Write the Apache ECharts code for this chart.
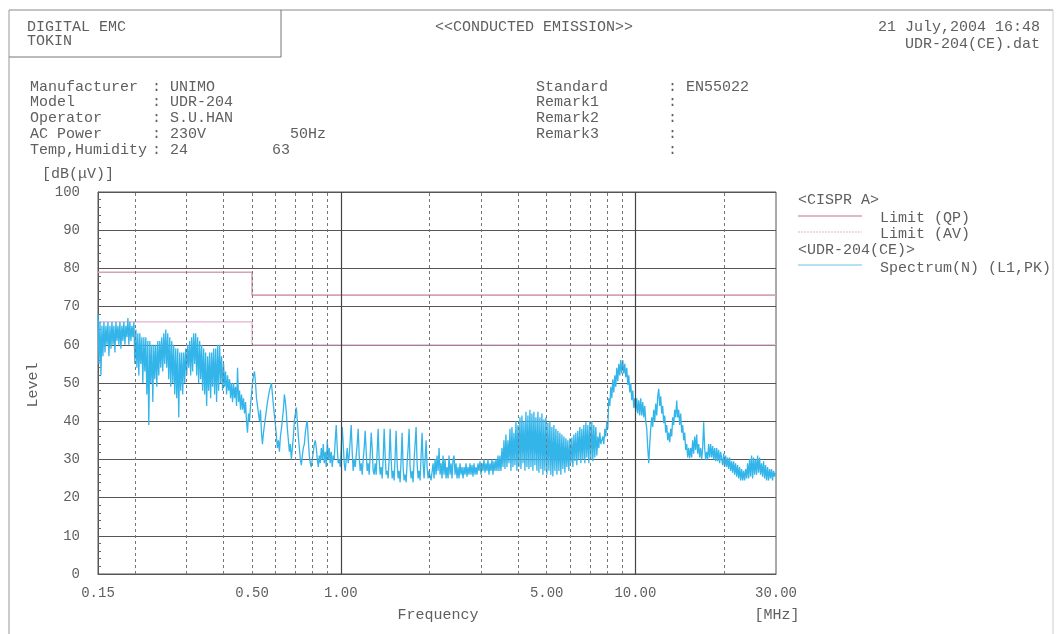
<!DOCTYPE html>
<html>
<head>
<meta charset="utf-8">
<title>Conducted Emission</title>
<script src="https://cdn.jsdelivr.net/npm/echarts@6.0.0/dist/echarts.min.js"></script>
<style>
  html, body { margin: 0; padding: 0; background: #fff; }
  #chart { width: 1056px; height: 634px; }
</style>
</head>
<body>
<div id="chart"></div>
<script>
const FONT = '"Liberation Mono", "DejaVu Sans Mono", monospace'
const TEXT = '#5f5f5f'

// axis ticks / labels (MHz)
const xTickLabels = [0.15, 0.5, 1, 5, 10, 30]
const minorGrid = [0.2, 0.3, 0.4, 0.5, 0.6, 0.7, 0.8, 0.9, 2, 3, 4, 5, 6, 7, 8, 9, 20]
const majorGrid = [1, 10]

// CISPR A limits [MHz, dB(uV)]
const limitQP = [[0.15, 79], [0.5, 79], [0.5, 73], [30, 73]]
const limitAV = [[0.15, 66], [0.5, 66], [0.5, 60], [30, 60]]

// measured spectrum (N, L1, PK) [MHz, dB(uV)]
const spectrum = [
  [0.1500,68],[0.1512,55],[0.1524,66],[0.1535,52],[0.1547,65],[0.1559,57],[0.1571,66],[0.1584,58],
  [0.1596,65],[0.1609,60],[0.1621,66],[0.1634,57],[0.1647,65],[0.1660,59],[0.1673,66],[0.1686,60],
  [0.1699,65],[0.1712,58],[0.1726,66],[0.1739,61],[0.1753,65],[0.1766,60],[0.1780,66],[0.1794,59],
  [0.1808,65],[0.1822,61],[0.1836,66],[0.1851,60],[0.1865,65],[0.1880,62],[0.1895,67],[0.1909,60],
  [0.1924,66],[0.1940,61],[0.1955,65],[0.1970,62],[0.1986,66],[0.2001,55],
  [0.2017,64],[0.2033,54],[0.2048,63],[0.2064,52],[0.2080,63],[0.2096,55],[0.2113,62],[0.2129,50],
  [0.2146,62],[0.2163,53],[0.2180,62],[0.2197,47],[0.2214,61],[0.2231,39],[0.2249,61],[0.2266,50],
  [0.2284,60],[0.2302,45],[0.2320,60],[0.2338,51],[0.2356,60],[0.2375,49],[0.2393,61],[0.2412,52],
  [0.2431,61],[0.2450,54],[0.2469,62],[0.2488,53],[0.2508,63],[0.2527,55],[0.2547,64],[0.2567,54],
  [0.2587,63],[0.2607,51],[0.2628,62],[0.2648,49],[0.2669,61],[0.2690,50],[0.2711,60],[0.2732,47],
  [0.2754,59],[0.2775,46],[0.2797,59],[0.2819,41],[0.2841,58],[0.2863,48],[0.2885,58],[0.2908,47],
  [0.2931,58],[0.2954,50],[0.2977,59],[0.3000,52],[0.3023,60],[0.3047,54],[0.3071,61],[0.3095,52],
  [0.3119,62],[0.3143,53],[0.3168,63],[0.3193,55],[0.3218,63],[0.3243,52],[0.3268,62],[0.3294,50],
  [0.3320,61],[0.3346,51],[0.3372,60],[0.3398,48],[0.3425,59],[0.3452,47],[0.3478,58],[0.3506,44],
  [0.3533,57],[0.3561,48],[0.3589,58],[0.3617,46],[0.3645,58],[0.3673,49],[0.3702,59],[0.3731,47],
  [0.3760,59],[0.3790,45],[0.3819,60],[0.3849,48],[0.3879,60],[0.3910,50],[0.3940,57],[0.3971,48],
  [0.4002,55],[0.4033,49],[0.4065,53],[0.4097,47],[0.4129,52],[0.4161,48],[0.4194,51],[0.4227,46],
  [0.4260,50],[0.4293,45],[0.4327,50],[0.4361,46],[0.4395,49],[0.4429,44],[0.4464,54],[0.4499,45],
  [0.4534,48],[0.4569,43],[0.4605,47],[0.4641,43],[0.4677,46],[0.4714,42],[0.4751,45],[0.4788,40],
  [0.4825,37],[0.4863,42],[0.4901,40],[0.4939,44],[0.4978,47],[0.5017,50],[0.5056,52],[0.5096,53],
  [0.5136,50],[0.5176,46],[0.5216,44],[0.5257,42],[0.5298,40],[0.5339,43],[0.5381,37],[0.5423,34],
  [0.5466,37],[0.5552,41],[0.5639,45],[0.5727,48],[0.5817,50],[0.5863,47],[0.5909,44],[0.6002,39],
  [0.6049,36],[0.6096,33],[0.6144,35],[0.6191,32],[0.6240,36],[0.6289,38],[0.6387,43],[0.6437,47],
  [0.6488,45],[0.6539,42],[0.6589,38],[0.6641,35],[0.6693,32],[0.6745,34],[0.6798,30],[0.6851,33],
  [0.6905,36],[0.6959,40],[0.7013,42],[0.7068,43.6],[0.7123,40],[0.7179,36],[0.7235,33],[0.7292,30],
  [0.7349,28.5],[0.7406,31],[0.7464,33],[0.7522,34],[0.7581,37],[0.7640,39],[0.7700,40],[0.7760,35],
  [0.7821,31],[0.7882,29],[0.7944,28],[0.8006,30],[0.8069,32],[0.8132,34],[0.8195,35],[0.8259,33],
  [0.8324,30],[0.8389,28],[0.8455,31],[0.8521,29],[0.8588,33],[0.8655,30],[0.8722,34],[0.8790,29],
  [0.8859,32],[0.8928,28],[0.8998,35],[0.9069,30],[0.9140,33],[0.9211,29],[0.9283,32],[0.9356,28],
  [0.9429,31],[0.9503,30],[0.9577,35],[0.9652,39],[0.9728,33],[0.9804,29],[0.9880,30],[0.9958,28],
  [1.0036,33],[1.0114,38.5],[1.0193,34],[1.0273,29],[1.0354,27],[1.0435,30],[1.0516,33],[1.0599,29],
  [1.0682,31],[1.0766,35],[1.0850,39],[1.0935,32],[1.1020,27],[1.1107,30],[1.1194,28],[1.1282,31],
  [1.1370,34],[1.1459,38],[1.1548,31],[1.1639,27],[1.1730,29],[1.1822,26],[1.1914,30],[1.2008,33],
  [1.2102,37.5],[1.2197,32],[1.2292,27],[1.2389,29],[1.2485,26],[1.2583,31],[1.2682,37],[1.2781,33],
  [1.2881,27],[1.2982,26],[1.3084,29],[1.3187,26],[1.3290,32],[1.3394,38],[1.3499,30],[1.3605,26],
  [1.3711,28],[1.3819,25],[1.3927,30],[1.4036,38],[1.4146,31],[1.4257,26],[1.4368,27],[1.4481,25],
  [1.4594,30],[1.4709,38],[1.4824,30],[1.4940,25],[1.5057,27],[1.5175,24.5],[1.5294,31],[1.5413,37.5],
  [1.5534,29],[1.5656,25],[1.5778,27],[1.5902,24],[1.6027,30],[1.6152,37],[1.6279,28],[1.6406,24.5],
  [1.6535,26],[1.6664,24],[1.6795,29],[1.6927,33],[1.7059,38],[1.7193,28],[1.7327,25],[1.7463,27],
  [1.7600,24],[1.7738,30],[1.7876,34],[1.8016,38.5],[1.8158,29],[1.8300,25],[1.8443,27],[1.8587,24.5],
  [1.8733,31],[1.8880,37],[1.9028,29],[1.9177,25],[1.9327,30],[1.9478,35],[1.9631,28],[1.9785,25],
  [1.9940,27],[2.0253,24.5],[2.0572,29],[2.0733,25],[2.0895,30],[2.1059,26],[2.1224,31],[2.1391,27],
  [2.1558,33],[2.1727,26],[2.1897,29],[2.2068,25],[2.2241,31],[2.2415,26],[2.2591,30],[2.2768,25],
  [2.2946,28],[2.3126,25],[2.3307,31],[2.3490,26],[2.3674,29],[2.3859,25],[2.4046,30],[2.4235,31],
  [2.4424,26],[2.4616,29],[2.4808,25],[2.5003,28],[2.5198,25],[2.5396,29],[2.5595,26],[2.5795,28],
  [2.5997,25],[2.6201,28],[2.6406,26],[2.6613,29],[2.6821,25.5],[2.7031,28],[2.7243,26],[2.7457,29],
  [2.7672,26],[2.7888,28.5],[2.8107,25.5],[2.8327,29],[2.8549,26],[2.8773,28],[2.8998,26],[2.9225,29],
  [2.9454,27],[2.9685,29.5],[2.9917,26],[3.0151,29],[3.0388,27],[3.0626,30],[3.0866,26.5],[3.1108,29],
  [3.1351,27],[3.1597,30],[3.1844,26],[3.2094,29],[3.2345,27],[3.2598,30],[3.2854,26],[3.3111,29.5],
  [3.3371,27],[3.3632,30],[3.3896,27],[3.4162,31],[3.4429,27],[3.4700,31],[3.4970,27],[3.5244,33],
  [3.5520,28],[3.5798,35],[3.6079,27.5],[3.6362,36.5],[3.6646,28],[3.6934,35],[3.7223,29],[3.7514,38],
  [3.7808,27],[3.8104,38.5],[3.8403,28],[3.8704,37],[3.9007,28.5],[3.9312,40],[3.9620,27],[3.9931,39],
  [4.0243,28],[4.0559,41],[4.0876,27.5],[4.1196,41.5],[4.1519,29],[4.1844,40],[4.2172,27],[4.2502,42.5],
  [4.2836,28],[4.3171,41.5],[4.3509,27.5],[4.3850,43],[4.4194,28],[4.4540,42],[4.4889,27],[4.5240,42.5],
  [4.5595,28.5],[4.5952,41],[4.6312,27],[4.6675,42.5],[4.7040,26.5],[4.7409,41],[4.7780,27.5],[4.8154,42],
  [4.8532,26],[4.8912,40.5],[4.9295,27],[4.9681,41],[5.0070,26],[5.0462,39.5],[5.0858,27],[5.1256,40],
  [5.1658,26],[5.2062,38.5],[5.2470,25.5],[5.2881,39],[5.3296,27],[5.3713,38],[5.4134,26],[5.4558,37.5],
  [5.4985,27],[5.5416,37],[5.5850,26],[5.6287,36.5],[5.6729,27.5],[5.7173,36],[5.7621,26.5],[5.8072,35.5],
  [5.8527,28],[5.8986,35],[5.9448,27],[5.9914,35.5],[6.0383,29],[6.0856,35.7],[6.1332,28],[6.1813,36.5],
  [6.2297,29.5],[6.2785,37],[6.3277,28.5],[6.3772,37.5],[6.4272,30],[6.4775,38.5],[6.5283,29],[6.5794,38],
  [6.6310,30],[6.6829,39],[6.7353,29],[6.7880,39.7],[6.8412,30.5],[6.8948,39],[6.9488,29],[7.0033,40],
  [7.0581,30],[7.1134,40],[7.1691,29.5],[7.2253,39],[7.2819,30.5],[7.3389,38.5],[7.3964,31],[7.4543,36],
  [7.5128,33],[7.5716,37],[7.6309,34],[7.6907,35],[7.7509,36],[7.8116,34],[7.8729,38],[7.9345,36],
  [7.9967,40],[8.0593,38],[8.1225,46],[8.1861,44],[8.2502,49],[8.3148,46],[8.3800,51],[8.4456,47.5],
  [8.5118,52],[8.5784,49],[8.6457,54],[8.7134,50.5],[8.7817,55],[8.8505,52],[8.9198,56],[8.9897,52.5],
  [9.0601,56],[9.1311,52.5],[9.2026,55],[9.2747,51.5],[9.3473,54],[9.4206,49.5],[9.4944,52],[9.5687,47.5],
  [9.6437,50],[9.7192,45.5],[9.7954,48],[9.8721,43.5],[9.9494,46],[10.027,42.5],[10.106,46],[10.185,42],
  [10.265,45.5],[10.345,41.5],[10.426,46],[10.508,41.5],[10.590,45],[10.673,41],[10.757,44],[10.841,40],
  [10.926,38],[11.012,33],[11.098,29],[11.185,34],[11.272,38],[11.361,41],[11.450,38.5],[11.540,43],
  [11.630,40],[11.721,44.6],[11.813,41.5],[11.906,46.5],[11.999,48.5],[12.093,44],[12.187,46.5],[12.283,42],
  [12.379,44],[12.476,39.5],[12.574,41.5],[12.672,37],[12.772,39],[12.872,35],[12.973,37],[13.074,34.5],
  [13.177,38],[13.280,36],[13.384,41],[13.489,39],[13.594,43],[13.701,41],[13.808,45.4],[13.916,41],
  [14.025,43],[14.135,39],[14.246,42],[14.357,37],[14.470,39],[14.583,35],[14.698,37],[14.813,32.5],
  [14.929,34],[15.046,30.5],[15.164,33],[15.283,30.3],[15.402,33],[15.523,30.5],[15.644,35],[15.767,31.5],
  [15.890,36],[16.015,32.5],[16.140,36.5],[16.267,31.5],[16.394,34],[16.522,30.5],[16.652,33],[16.782,30],
  [16.914,33],[17.047,39.7],[17.180,33],[17.315,29.8],[17.450,32],[17.587,30],[17.725,34],[17.863,30.5],
  [18.004,34],[18.144,30.5],[18.287,33.5],[18.430,30],[18.575,33],[18.720,29.5],[18.867,33],[19.015,29.5],
  [19.164,32.5],[19.314,29],[19.465,32],[19.771,28.5],[19.926,31.5],[20.082,28],[20.239,31],[20.398,28],
  [20.558,30.5],[20.719,27.5],[20.881,30.5],[21.045,27],[21.210,29.5],[21.376,26.5],[21.544,29.5],[21.712,26],
  [21.882,29],[22.054,25.5],[22.227,28.5],[22.401,25],[22.576,28],[22.753,24.5],[22.931,27.5],[23.111,24.5],
  [23.292,27],[23.474,24.5],[23.658,27.5],[23.844,25],[24.031,29],[24.219,25],[24.409,30],[24.600,25.5],
  [24.793,31],[24.987,25],[25.183,30.5],[25.380,26],[25.579,30],[25.779,26],[25.981,31],[26.184,26.5],
  [26.389,30.5],[26.596,26],[26.804,29],[27.015,25.5],[27.226,29.5],[27.440,25],[27.655,28.5],[27.871,24.5],
  [28.090,28],[28.310,24.5],[28.532,27.5],[28.755,25],[28.981,27.5],[29.207,24.5],[29.436,27],[29.667,25.5],
  [29.900,26.5]
]

const chart = echarts.init(document.getElementById('chart'), null, { renderer: 'canvas' })

function txt(text, x, y, align, rotation) {
  return {
    type: 'text',
    silent: true,
    x: x,
    y: y,
    rotation: rotation || 0,
    style: {
      text: text, x: 0, y: 0,
      fill: TEXT,
      fontFamily: FONT,
      fontSize: 15,
      align: align || 'left',
      verticalAlign: 'middle'
    }
  }
}

function seg(x1, y1, x2, y2, stroke, width, dash) {
  return {
    type: 'line',
    silent: true,
    shape: { x1: x1, y1: y1, x2: x2, y2: y2 },
    style: { stroke: stroke, lineWidth: width || 1, lineDash: dash || null }
  }
}

const gridLines = minorGrid.map(f => ({ xAxis: f, lineStyle: { type: [3, 3], color: '#777', width: 1 } }))
  .concat(majorGrid.map(f => ({ xAxis: f, lineStyle: { type: 'solid', color: '#444', width: 1.2 } })))

const infoRows = [87, 102, 118, 134, 150]

chart.setOption({
  animation: false,
  backgroundColor: '#fff',
  grid: {
    left: 98,
    top: 192,
    width: 678,
    height: 382,
    show: true,
    borderColor: '#555',
    borderWidth: 1,
    outerBoundsMode: 'none'
  },
  xAxis: {
    type: 'log',
    logBase: 10,
    min: 0.15,
    max: 30,
    axisLine: { show: true, lineStyle: { color: '#555' } },
    axisTick: { show: false },
    splitLine: { show: false },
    axisLabel: {
      customValues: xTickLabels,
      formatter: v => Number(v).toFixed(2),
      color: TEXT,
      fontFamily: FONT,
      fontSize: 14,
      margin: 12,
      showMinLabel: true,
      showMaxLabel: true
    }
  },
  yAxis: {
    type: 'value',
    min: 0,
    max: 100,
    interval: 10,
    axisLine: { show: true, lineStyle: { color: '#555' } },
    axisTick: { show: true, inside: true, length: 5, lineStyle: { color: '#555' } },
    minorTick: { show: true, splitNumber: 5, length: 3, lineStyle: { color: '#666' } },
    splitLine: { show: true, lineStyle: { color: '#555', width: 1 } },
    axisLabel: { color: TEXT, fontFamily: FONT, fontSize: 14, margin: 18 }
  },
  series: [
    {
      name: 'Limit (QP)',
      type: 'line',
      data: limitQP,
      symbol: 'none',
      z: 2,
      lineStyle: { color: '#d6a2b6', width: 1.6 },
      markLine: {
        silent: true,
        symbol: ['none', 'none'],
        label: { show: false },
        data: gridLines
      }
    },
    {
      name: 'Limit (AV)',
      type: 'line',
      data: limitAV,
      symbol: 'none',
      z: 2,
      lineStyle: { color: '#e3b2d0', width: 1.2 }
    },
    {
      name: 'Spectrum(N) (L1,PK)',
      type: 'line',
      data: spectrum,
      symbol: 'none',
      z: 3,
      lineStyle: { color: '#33b5ea', width: 1.3 }
    }
  ],
  graphic: [
    // page frame
    seg(9, 10, 1053, 10, '#888', 1),
    seg(9, 10, 9, 634, '#999', 1),
    seg(1053, 10, 1053, 634, '#ccc', 1),
    seg(281, 10, 281, 57, '#777', 1),
    seg(9, 57, 281, 57, '#777', 1),
    // header
    txt('DIGITAL EMC', 27, 27),
    txt('TOKIN', 27, 41),
    txt('<<CONDUCTED EMISSION>>', 534, 27, 'center'),
    txt('21 July,2004 16:48', 1040, 27, 'right'),
    txt('UDR-204(CE).dat', 1040, 44, 'right'),
    txt('Manufacturer', 30, infoRows[0]), txt(': UNIMO', 152, infoRows[0]),
    txt('Model', 30, infoRows[1]), txt(': UDR-204', 152, infoRows[1]),
    txt('Operator', 30, infoRows[2]), txt(': S.U.HAN', 152, infoRows[2]),
    txt('AC Power', 30, infoRows[3]), txt(': 230V', 152, infoRows[3]), txt('50Hz', 290, infoRows[3]),
    txt('Temp,Humidity', 30, infoRows[4]), txt(': 24', 152, infoRows[4]), txt('63', 272, infoRows[4]),
    txt('Standard', 536, infoRows[0]), txt(': EN55022', 668, infoRows[0]),
    txt('Remark1', 536, infoRows[1]), txt(':', 668, infoRows[1]),
    txt('Remark2', 536, infoRows[2]), txt(':', 668, infoRows[2]),
    txt('Remark3', 536, infoRows[3]), txt(':', 668, infoRows[3]),
    txt(':', 668, infoRows[4]),
    // axis names
    txt('[dB(\u03bcV)]', 42, 174),
    txt('Level', 33, 385, 'center', Math.PI / 2),
    txt('Frequency', 438, 615, 'center'),
    txt('[MHz]', 777, 615, 'center'),
    // legend
    txt('<CISPR A>', 798, 200),
    seg(798, 216, 862, 216, '#d6a2b6', 1.6),
    txt('Limit (QP)', 880, 218),
    seg(798, 232, 862, 232, '#e3b2d0', 1.2, [2, 1]),
    txt('Limit (AV)', 880, 234),
    txt('<UDR-204(CE)>', 798, 250),
    seg(798, 265, 862, 265, '#6cc3e8', 1),
    txt('Spectrum(N) (L1,PK)', 880, 268)
  ]
})
</script>
</body>
</html>
